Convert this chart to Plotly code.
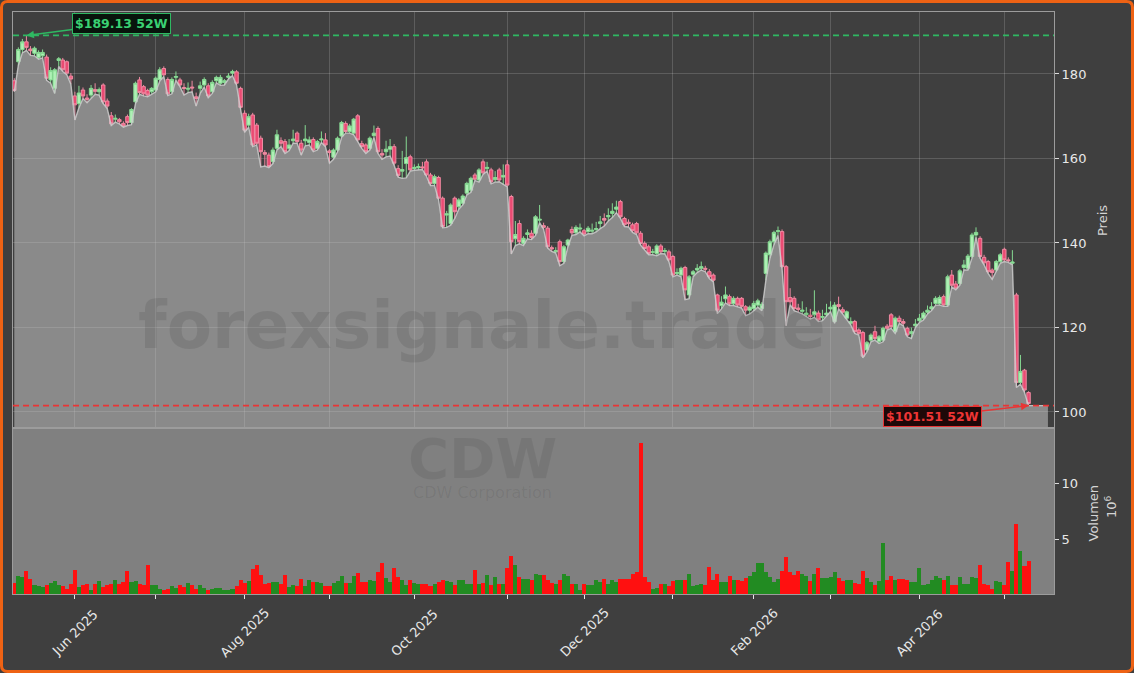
import pandas as pd
import plotly.graph_objects as go

# ---------------- data ----------------
holidays = ["2025-05-26", "2025-06-19", "2025-07-04", "2025-09-01", "2025-11-27",
            "2025-12-25", "2026-01-01", "2026-01-19", "2026-02-16", "2026-04-03"]
dates = pd.bdate_range("2025-05-09", "2026-05-11", freq="C", holidays=holidays)

open_ = [
    178.4, 182.9, 185.8, 187.6, 185.9, 184.9, 183.9, 184.3, 184.0, 178.6,
    176.6, 183.2, 183.3, 182.9, 179.5, 174.8, 173.0, 176.2, 174.3, 175.0,
    176.3, 175.8, 177.4, 173.6, 170.1, 169.3, 169.2, 168.3, 169.9, 168.5,
    173.4, 178.6, 177.0, 176.1, 175.8, 176.2, 178.7, 181.3, 178.7, 175.8,
    179.2, 178.6, 176.8, 176.4, 176.9, 174.6, 176.6, 177.4, 177.2, 175.8,
    178.4, 177.8, 178.0, 179.2, 180.2, 180.5, 176.6, 170.7, 167.9, 170.3,
    167.9, 164.8, 161.4, 160.8, 159.3, 162.4, 164.2, 164.0, 162.4, 164.2,
    166.0, 163.6, 164.2, 163.8, 164.5, 162.4, 164.4, 164.4, 161.8, 160.3,
    162.0, 165.3, 168.3, 166.4, 166.0, 170.1, 163.5, 163.2, 162.4, 165.4,
    167.1, 161.2, 161.6, 162.2, 162.8, 157.6, 157.0, 158.8, 160.4, 157.6,
    157.8, 158.0, 159.2, 156.1, 154.1, 155.5, 150.6, 146.6, 144.6, 150.6,
    148.6, 149.4, 151.8, 152.5, 156.1, 154.9, 159.2, 157.6, 157.3, 155.0,
    157.3, 155.6, 158.5, 151.0, 141.0, 144.6, 139.9, 142.0, 142.3, 142.3,
    145.4, 144.1, 143.5, 138.9, 137.9, 140.3, 135.6, 139.5, 143.2, 142.4,
    143.3, 142.9, 142.7, 142.8, 143.2, 144.6, 145.8, 146.2, 147.0, 148.0,
    149.8, 145.8, 144.9, 144.3, 144.6, 142.3, 139.9, 139.1, 137.8, 137.5,
    139.3, 138.0, 137.9, 136.8, 132.8, 132.4, 134.2, 127.7, 132.6, 133.6,
    134.0, 134.0, 133.2, 132.4, 127.7, 125.2, 126.8, 127.3, 125.6, 126.9,
    126.9, 124.9, 124.1, 124.5, 125.3, 124.5, 132.8, 137.2, 140.3, 142.7,
    142.7, 134.4, 127.1, 126.9, 124.6, 123.8, 123.0, 122.9, 123.0, 123.4,
    122.4, 123.0, 124.4, 121.4, 125.4, 124.2, 122.2, 121.0, 121.4, 119.4,
    118.8, 114.7, 117.0, 119.0, 116.6, 117.0, 120.3, 123.0, 119.0, 122.2,
    121.4, 119.8, 118.6, 120.4, 121.6, 122.2, 123.6, 124.4, 125.7, 125.6,
    127.3, 125.3, 132.4, 130.3, 130.4, 134.2, 134.0, 136.8, 141.9, 141.1,
    136.6, 135.6, 133.6, 133.6, 135.6, 138.5, 136.0, 135.2, 127.7, 107.0,
    109.9, 104.6,
]
high = [
    179.0, 186.3, 188.3, 189.13, 186.6, 186.5, 185.6, 185.8, 184.6, 181.6,
    181.4, 184.0, 183.8, 183.2, 180.2, 175.8, 177.2, 176.8, 175.2, 177.4,
    177.8, 176.8, 177.8, 174.2, 171.0, 170.4, 169.6, 168.8, 170.4, 171.9,
    178.2, 179.3, 177.4, 176.5, 176.9, 179.4, 181.6, 181.8, 179.2, 179.2,
    180.6, 179.1, 177.8, 178.0, 178.4, 175.6, 178.2, 179.2, 177.8, 178.5,
    179.6, 179.8, 178.8, 180.2, 181.0, 180.9, 177.0, 171.4, 170.6, 170.8,
    168.4, 165.4, 162.0, 161.4, 162.6, 166.8, 165.0, 164.6, 164.6, 166.8,
    166.4, 164.4, 167.9, 165.2, 165.0, 164.4, 166.4, 166.0, 162.2, 162.4,
    165.2, 168.9, 168.8, 168.2, 169.6, 170.5, 164.2, 163.6, 165.2, 167.8,
    167.6, 162.2, 164.2, 164.6, 163.4, 158.4, 161.8, 165.2, 160.9, 158.6,
    158.8, 159.2, 159.8, 156.6, 156.2, 155.9, 151.0, 147.6, 149.4, 151.0,
    150.6, 151.5, 154.5, 155.7, 156.6, 157.7, 159.8, 159.2, 157.8, 157.0,
    157.8, 158.6, 159.6, 151.4, 145.2, 145.4, 141.6, 143.2, 143.0, 146.6,
    149.0, 144.8, 144.0, 139.4, 139.0, 140.8, 139.5, 141.0, 143.9, 144.2,
    144.6, 143.3, 144.0, 144.6, 145.0, 146.4, 147.0, 148.2, 149.4, 150.0,
    150.2, 146.2, 145.6, 144.8, 145.0, 142.8, 140.4, 139.6, 138.6, 139.7,
    139.8, 138.8, 138.4, 137.2, 134.0, 134.4, 134.6, 132.4, 133.6, 135.0,
    135.6, 134.6, 133.8, 132.8, 128.0, 127.4, 129.7, 127.8, 127.4, 127.3,
    127.2, 125.3, 125.2, 126.3, 126.8, 126.0, 138.0, 140.8, 142.9, 143.9,
    143.2, 134.8, 129.3, 127.4, 125.6, 126.2, 124.8, 124.4, 128.8, 124.0,
    124.2, 125.6, 126.2, 126.0, 127.3, 124.8, 124.0, 122.4, 121.8, 119.8,
    119.2, 116.8, 118.6, 120.4, 118.2, 120.2, 120.8, 123.4, 122.6, 122.8,
    122.0, 120.2, 120.0, 122.0, 123.2, 123.8, 125.2, 126.0, 127.4, 127.6,
    127.8, 132.5, 133.6, 131.0, 133.8, 136.0, 137.4, 142.4, 143.7, 141.6,
    137.2, 136.0, 134.0, 136.0, 137.6, 138.9, 136.6, 138.3, 128.2, 113.5,
    110.2, 104.9,
]
low = [
    175.8, 182.0, 185.0, 185.6, 184.4, 184.3, 183.5, 183.8, 178.5, 177.8,
    175.4, 181.8, 180.6, 179.8, 177.6, 169.1, 172.0, 174.2, 173.2, 174.3,
    175.2, 175.0, 173.0, 171.8, 167.8, 168.6, 168.2, 167.4, 167.8, 168.0,
    173.0, 175.2, 174.8, 174.6, 175.3, 175.8, 178.3, 179.4, 174.9, 175.3,
    178.5, 177.0, 175.0, 175.6, 175.8, 172.4, 175.4, 176.9, 174.4, 175.4,
    177.9, 177.3, 177.4, 178.8, 179.6, 177.4, 171.6, 166.2, 167.4, 162.8,
    163.2, 158.0, 158.2, 157.8, 158.8, 162.0, 162.8, 161.2, 161.8, 163.6,
    163.6, 160.8, 163.0, 163.2, 161.6, 162.0, 163.8, 162.8, 158.9, 159.8,
    161.6, 165.0, 166.0, 166.0, 165.6, 164.0, 162.4, 161.2, 162.0, 165.0,
    161.2, 159.8, 160.4, 160.6, 158.4, 155.6, 155.3, 155.4, 157.0, 157.2,
    157.3, 157.4, 155.8, 153.6, 153.6, 150.2, 143.6, 143.7, 144.2, 145.8,
    148.0, 149.0, 151.4, 152.0, 154.8, 154.4, 156.2, 157.0, 154.0, 154.4,
    154.5, 153.8, 153.3, 137.4, 139.4, 139.8, 139.4, 141.0, 140.8, 141.8,
    144.8, 143.2, 138.8, 138.0, 137.6, 134.6, 135.2, 139.1, 141.8, 142.0,
    142.6, 141.7, 142.2, 142.2, 142.6, 143.4, 144.0, 145.2, 146.0, 147.2,
    145.8, 143.9, 143.8, 142.5, 142.0, 139.5, 138.4, 137.2, 137.2, 137.0,
    137.5, 137.4, 135.6, 132.0, 132.4, 132.0, 126.6, 126.8, 132.0, 133.0,
    133.6, 133.2, 131.6, 130.8, 123.3, 124.4, 125.8, 125.2, 125.2, 124.9,
    124.6, 122.8, 123.2, 124.0, 124.8, 124.0, 131.2, 136.4, 139.6, 141.8,
    134.0, 120.4, 125.4, 124.0, 123.6, 123.2, 122.6, 122.0, 122.4, 121.4,
    121.6, 122.6, 123.8, 121.0, 124.4, 123.2, 121.8, 120.6, 118.6, 118.2,
    112.8, 114.2, 116.6, 117.0, 116.2, 116.6, 119.4, 119.8, 118.6, 121.0,
    120.4, 117.8, 117.4, 120.0, 121.2, 121.8, 123.2, 124.0, 125.3, 125.3,
    125.0, 125.0, 129.6, 128.9, 130.0, 133.6, 133.6, 136.4, 141.4, 136.4,
    134.8, 132.8, 131.4, 133.2, 135.2, 135.6, 135.4, 134.8, 105.8, 106.6,
    104.6, 101.51,
]
close = [
    176.1, 185.8, 187.6, 186.3, 185.5, 186.1, 185.1, 185.1, 179.0, 180.8,
    181.0, 183.6, 181.0, 180.2, 178.8, 172.7, 175.5, 174.8, 174.0, 176.6,
    175.9, 176.3, 173.4, 172.4, 168.2, 169.5, 168.7, 167.7, 168.5, 171.6,
    177.8, 175.6, 175.3, 175.0, 176.6, 179.0, 181.0, 179.8, 175.3, 178.7,
    179.4, 177.4, 176.6, 176.6, 176.7, 174.2, 177.2, 178.7, 174.8, 178.0,
    179.2, 179.2, 178.4, 179.5, 180.6, 177.8, 172.1, 166.7, 169.9, 163.2,
    163.6, 161.6, 161.0, 158.1, 162.0, 165.6, 163.6, 161.6, 163.2, 164.6,
    164.0, 162.0, 164.6, 164.4, 162.0, 164.0, 164.6, 163.2, 161.4, 162.0,
    164.8, 168.5, 166.4, 167.7, 169.3, 164.4, 162.8, 161.6, 164.8, 166.0,
    161.6, 160.8, 162.2, 162.8, 158.9, 156.0, 157.4, 160.2, 157.3, 157.9,
    158.1, 157.8, 156.1, 154.1, 155.7, 150.6, 143.9, 146.9, 149.0, 147.4,
    150.2, 151.1, 154.1, 155.3, 155.1, 157.3, 156.6, 157.9, 154.5, 155.5,
    154.9, 156.0, 153.7, 140.3, 142.0, 140.3, 141.1, 142.4, 141.3, 146.2,
    145.6, 143.7, 139.1, 138.6, 138.2, 135.6, 139.1, 140.7, 142.4, 143.7,
    143.5, 142.1, 143.5, 143.0, 143.4, 145.0, 145.4, 146.5, 147.5, 148.5,
    146.2, 144.3, 144.6, 142.9, 142.4, 139.9, 138.7, 137.5, 137.9, 139.3,
    137.9, 138.2, 136.0, 132.4, 133.0, 134.0, 128.9, 132.0, 133.2, 134.0,
    134.4, 133.8, 132.0, 131.2, 124.1, 126.0, 127.7, 125.6, 126.9, 125.3,
    125.0, 124.1, 124.8, 125.7, 126.3, 125.5, 137.6, 140.3, 142.5, 142.9,
    134.4, 126.1, 126.1, 124.5, 124.3, 124.1, 123.4, 122.6, 123.7, 121.8,
    122.6, 123.4, 124.8, 125.3, 125.0, 123.6, 123.7, 121.4, 119.0, 118.6,
    113.2, 116.4, 118.2, 117.4, 117.8, 119.8, 119.8, 120.2, 122.2, 121.4,
    121.0, 118.2, 119.0, 120.8, 122.2, 123.4, 124.1, 124.9, 126.9, 127.1,
    125.3, 132.0, 130.0, 129.3, 133.4, 134.8, 136.9, 141.9, 142.5, 136.8,
    135.3, 133.2, 133.0, 135.6, 137.2, 136.0, 135.8, 135.5, 107.0, 109.6,
    105.2, 102.0,
]
volume = [  # millions of shares
    1.1, 1.7, 1.6, 2.2, 1.5, 0.9, 0.8, 0.75, 0.9, 1.1,
    1.3, 0.9, 0.8, 0.55, 1.0, 2.25, 0.75, 0.9, 1.05, 0.5,
    1.0, 1.25, 0.75, 0.9, 1.05, 1.4, 1.05, 1.2, 2.15, 1.2,
    1.25, 1.0, 0.95, 2.7, 0.9, 0.9, 0.6, 0.45, 0.6, 0.8,
    0.7, 0.9, 0.75, 1.1, 0.9, 0.55, 0.9, 0.65, 0.45, 0.6,
    0.7, 0.7, 0.5, 0.45, 0.6, 0.8, 1.35, 1.1, 1.3, 2.35,
    2.7, 1.8, 1.0, 1.1, 1.15, 1.15, 1.05, 1.8, 0.75, 0.95,
    0.85, 1.5, 0.85, 1.4, 1.2, 1.2, 1.1, 0.8, 0.8, 1.1,
    1.3, 1.7, 1.1, 1.1, 1.7, 2.0, 1.15, 1.2, 1.35, 1.25,
    2.1, 2.9, 1.55, 1.2, 2.4, 1.65, 1.4, 0.9, 1.35, 1.1,
    1.0, 1.0, 1.05, 0.8, 1.05, 1.2, 1.35, 1.25, 1.2, 0.9,
    1.4, 1.35, 1.0, 1.0, 2.25, 1.0, 1.1, 1.8, 0.9, 1.6,
    1.0, 1.05, 2.4, 3.5, 2.7, 1.65, 1.5, 1.5, 1.4, 1.9,
    1.8, 1.8, 1.35, 1.1, 1.0, 1.35, 1.9, 1.7, 1.05, 1.05,
    0.45, 1.05, 0.9, 0.9, 1.35, 1.2, 1.5, 1.05, 1.35, 1.2,
    1.45, 1.5, 1.45, 1.95, 2.05, 13.6, 1.65, 1.2, 0.6, 0.7,
    1.05, 1.05, 0.85, 1.25, 1.35, 1.4, 1.4, 1.95, 0.85, 0.95,
    1.0, 0.9, 2.5, 1.4, 1.95, 1.2, 1.2, 1.7, 1.4, 1.35,
    1.3, 1.55, 1.7, 2.1, 2.9, 2.9, 2.1, 1.65, 1.2, 1.5,
    2.15, 3.45, 2.1, 1.8, 2.15, 1.95, 1.7, 1.25, 1.95, 2.4,
    1.55, 1.55, 1.65, 2.1, 1.55, 1.25, 1.35, 1.35, 1.1, 1.05,
    2.15, 1.55, 1.2, 0.9, 1.25, 4.7, 1.4, 1.7, 1.35, 1.45,
    1.45, 1.35, 1.2, 1.15, 2.4, 0.9, 1.0, 1.4, 1.7, 1.55,
    1.35, 1.7, 0.9, 0.9, 1.6, 1.0, 1.0, 1.6, 1.55, 2.7,
    1.05, 0.9, 0.6, 1.3, 1.15, 0.9, 3.0, 2.15, 6.35, 4.0,
    2.6, 3.1,
]

ticker = "CDW"
company = "CDW Corporation"
watermark = "forexsignale.trade"

n = len(close)
assert len(dates) == n == len(open_) == len(high) == len(low) == len(volume)
idx = list(range(n))

# month ticks (first trading day of each month), label every other month
tick_idx, tick_txt = [], []
prev = None
for i, d in enumerate(dates):
    key = (d.year, d.month)
    if prev is not None and key != prev:
        tick_idx.append(i)
        tick_txt.append(d.strftime("%b %Y") if d.month % 2 == 0 else "")
    prev = key

hi = max(high)
i_hi = high.index(hi)
lo = min(low)
i_lo = low.index(lo)

# ---------------- geometry / style ----------------
W, H = 1134, 673
ML, MR, MT, MB = 13, 80, 12, 79
PW, PH = W - ML - MR, H - MT - MB
split_py = 428
vol_frac = (H - MB - split_py) / PH


def pxx(px):
    return (px - ML) / PW


def pxy(py):
    return (H - MB - py) / PH


BG = "#3f3f3f"
FONT = "DejaVu Sans"
TXT = "#e8e8e8"
GRID = "rgba(255,255,255,0.16)"
FRAME = "#9c9c9c"
GREEN52 = "#2fb862"
RED52 = "#e83535"

x_range = [-0.32, 257.3]
fill_pad = 4.8

vol_colors = ["#228b22" if c >= o else "#ff1010" for o, c in zip(open_, close)]

fig = go.Figure()

fig.add_trace(go.Scatter(
    x=idx + [idx[-1] + fill_pad], y=low + [low[-1]],
    mode="lines", fill="tozeroy",
    fillcolor="rgba(200,200,200,0.55)",
    line=dict(color="rgba(205,205,205,0.85)", width=1.4),
    xaxis="x", yaxis="y", hoverinfo="skip", showlegend=False,
))

fig.add_trace(go.Candlestick(
    x=idx, open=open_, high=high, low=low, close=close,
    increasing=dict(line=dict(color="#86d992", width=1), fillcolor="#aef0b5"),
    decreasing=dict(line=dict(color="#f08aa2", width=1), fillcolor="#ea4b73"),
    whiskerwidth=0, xaxis="x", yaxis="y", hoverinfo="skip", showlegend=False,
))

fig.add_trace(go.Bar(
    x=idx, y=volume, width=1.0, marker=dict(color=vol_colors, line=dict(width=0)),
    xaxis="x2", yaxis="y2", hoverinfo="skip", showlegend=False,
))

# border path with rounded corners
L, R, T, B, rr = 1.5, W - 1.5, 1.5, H - 1.5, 6


def P(x, y):
    return f"{pxx(x):.5f},{pxy(y):.5f}"


border = (f"M {P(L + rr, T)} L {P(R - rr, T)} Q {P(R, T)} {P(R, T + rr)} "
          f"L {P(R, B - rr)} Q {P(R, B)} {P(R - rr, B)} L {P(L + rr, B)} "
          f"Q {P(L, B)} {P(L, B - rr)} L {P(L, T + rr)} Q {P(L, T)} {P(L + rr, T)} Z")

shapes = [
    dict(type="rect", xref="x2 domain", yref="y2 domain", x0=0, x1=1, y0=0, y1=1,
         fillcolor="#808080", line=dict(width=0), layer="below"),
    dict(type="line", xref="x domain", yref="y", x0=0, x1=1, y0=hi, y1=hi,
         line=dict(color=GREEN52, width=1.6, dash="6px,4px")),
    dict(type="line", xref="x domain", yref="y", x0=0, x1=1, y0=lo, y1=lo,
         line=dict(color=RED52, width=1.6, dash="6px,4px")),
    dict(type="path", xref="paper", yref="paper", path=border,
         line=dict(color="#ee6214", width=3)),
]


def paper_text(px, py, text, size, color, weight="normal", angle=0):
    return dict(x=pxx(px), y=pxy(py), xref="paper", yref="paper", text=text,
                xanchor="center", yanchor="middle", textangle=angle, showarrow=False,
                font=dict(family=FONT, size=size, color=color, weight=weight))


annotations = [
    paper_text(482, 325, watermark, 66, "rgba(0,0,0,0.09)", "bold"),
    paper_text(482, 459, ticker, 56, "rgba(0,0,0,0.075)", "bold"),
    paper_text(482, 492, company, 16, "rgba(0,0,0,0.08)"),
    paper_text(1103, 221, "Preis", 13, "#d4d4d4", angle=-90),
    paper_text(1092.5, 513, "Volumen", 13, "#d4d4d4", angle=-90),
    paper_text(1111, 507, "10<sup>6</sup>", 13, "#d4d4d4", angle=-90),
    dict(x=i_hi, y=hi, xref="x", yref="y", text=f"${hi:.2f} 52W",
         ax=95, ay=-12, showarrow=True, arrowhead=2, arrowsize=1, arrowwidth=1.5,
         arrowcolor=GREEN52, bgcolor="#08140c", bordercolor=GREEN52, borderwidth=1, borderpad=2,
         font=dict(family=FONT, size=12.5, color="#3ad173", weight="bold")),
    dict(x=i_lo, y=lo, xref="x", yref="y", text=f"${lo:.2f} 52W",
         ax=-96, ay=11, showarrow=True, arrowhead=2, arrowsize=1, arrowwidth=1.5,
         arrowcolor=RED52, bgcolor="#1e0808", bordercolor=RED52, borderwidth=1, borderpad=2,
         font=dict(family=FONT, size=12.5, color="#ee3535", weight="bold")),
]
for tv, tt in zip(tick_idx, tick_txt):
    if tt:
        annotations.append(dict(x=tv, y=pxy(632), xref="x2", yref="paper", text=tt,
                                textangle=-45, showarrow=False, xanchor="center", yanchor="middle",
                                font=dict(family=FONT, size=13, color=TXT)))

fig.update_layout(
    width=W, height=H,
    margin=dict(l=ML, r=MR, t=MT, b=MB, pad=0),
    paper_bgcolor=BG, plot_bgcolor=BG,
    showlegend=False,
    boxgap=0.15, boxgroupgap=0.0, bargap=0,
    font=dict(family=FONT, size=13, color=TXT),
    shapes=shapes, annotations=annotations,
    xaxis=dict(domain=[0, 1], anchor="y", range=x_range, tickvals=tick_idx,
               showticklabels=False, ticks="", showgrid=True, gridcolor=GRID, gridwidth=1,
               showline=True, mirror=True, linecolor=FRAME, linewidth=1, zeroline=False,
               rangeslider=dict(visible=False)),
    yaxis=dict(domain=[vol_frac, 1], anchor="x", side="right", range=[96.21, 194.67],
               tickvals=[100, 120, 140, 160, 180], ticks="outside", ticklen=4, tickcolor="#dcdcdc",
               tickfont=dict(family=FONT, size=13, color=TXT),
               showgrid=True, gridcolor=GRID, gridwidth=1,
               showline=True, mirror=True, linecolor=FRAME, linewidth=1, zeroline=False),
    xaxis2=dict(domain=[0, 1], anchor="y2", range=x_range, tickvals=tick_idx,
                showticklabels=False, ticks="outside", ticklen=4, tickcolor="#e6e6e6",
                showgrid=False, showline=True, mirror=True, linecolor=FRAME, linewidth=1,
                zeroline=False),
    yaxis2=dict(domain=[0, vol_frac], anchor="x2", side="right", range=[0.12, 14.94],
                tickvals=[5, 10], ticks="outside", ticklen=4, tickcolor="#dcdcdc",
                tickfont=dict(family=FONT, size=13, color=TXT),
                showgrid=False, showline=True, mirror=True, linecolor=FRAME, linewidth=1,
                zeroline=False),
)

fig.write_html(
    "out.html",
    config={"displayModeBar": False},
    post_script="document.body.style.margin='0';document.body.style.padding='0';"
                "document.body.style.overflow='hidden';"
                "document.body.style.background='" + BG + "';",
)
